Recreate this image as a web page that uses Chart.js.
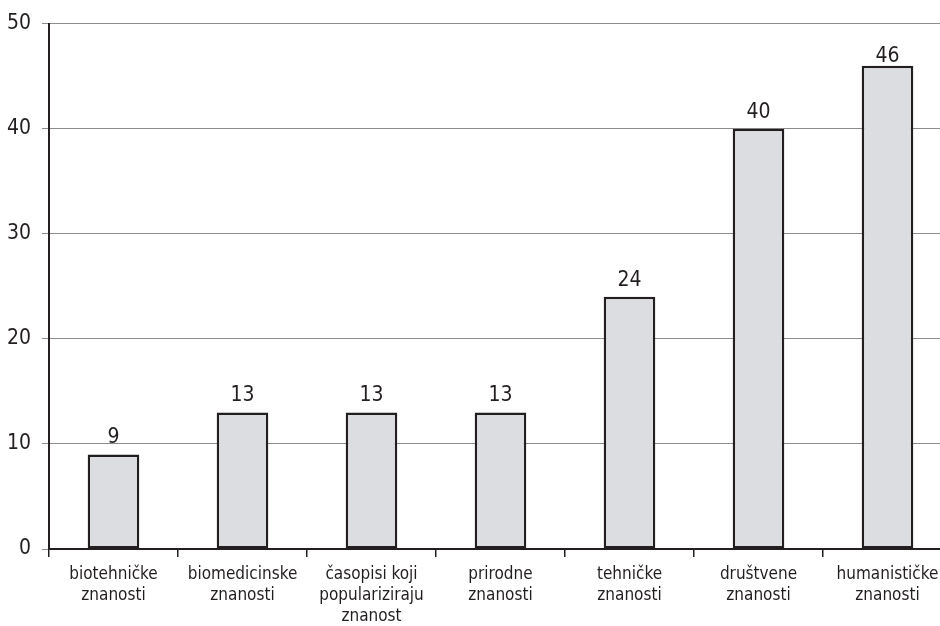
<!DOCTYPE html>
<html>
<head>
<meta charset="utf-8">
<title>Časopisi po područjima</title>
<script src="https://cdn.jsdelivr.net/npm/chart.js@4/dist/chart.umd.min.js"></script>
<style>
  html, body { margin: 0; padding: 0; background: #fff; overflow: hidden; }
  #wrap { position: relative; width: 952px; height: 626px; }
</style>
</head>
<body>
<div id="wrap"><canvas id="chart"></canvas></div>
<script>
var categories = [
  ['biotehničke', 'znanosti'],
  ['biomedicinske', 'znanosti'],
  ['časopisi koji', 'populariziraju', 'znanost'],
  ['prirodne', 'znanosti'],
  ['tehničke', 'znanosti'],
  ['društvene', 'znanosti'],
  ['humanističke', 'znanosti']
];
var counts = [9, 13, 13, 13, 24, 40, 46];
var yTicks = [0, 10, 20, 30, 40, 50];

var FONT = "'Liberation Sans Narrow', 'DejaVu Sans Condensed', 'Roboto Condensed', Roboto, sans-serif";
var INK = '#231f20';

/**
 * @description Draws the value above every bar, kept inside the plot top.
 */
var barValues = {
  id: 'barValues',
  afterDatasetsDraw: function (chart) {
    var ctx = chart.ctx;
    var meta = chart.getDatasetMeta(0);
    var top = chart.chartArea.top;
    ctx.save();
    ctx.font = '21px ' + FONT;
    ctx.fillStyle = INK;
    ctx.textAlign = 'center';
    ctx.textBaseline = 'alphabetic';
    meta.data.forEach(function (bar, i) {
      var y = Math.max(bar.y - 11, top + 38);
      ctx.fillText(String(chart.data.datasets[0].data[i]), bar.x, y);
    });
    ctx.restore();
  }
};

new Chart(document.getElementById('chart'), {
  type: 'bar',
  data: {
    labels: categories,
    datasets: [{
      data: counts,
      backgroundColor: '#dcdde0',
      borderColor: INK,
      borderWidth: 2.5,
      borderSkipped: false,
      barPercentage: 0.4,
      categoryPercentage: 1
    }]
  },
  options: {
    responsive: true,
    maintainAspectRatio: false,
    animation: false,
    layout: { padding: { top: 15, right: 0, left: 0, bottom: 0 } },
    plugins: {
      legend: { display: false },
      tooltip: { enabled: false }
    },
    scales: {
      x: {
        afterFit: function (scale) { scale.height = 77; },
        border: { color: INK, width: 2 },
        grid: { drawOnChartArea: false, drawTicks: true, tickLength: 8, color: INK, lineWidth: 1.5 },
        ticks: {
          color: INK,
          padding: 7,
          maxRotation: 0,
          autoSkip: false,
          font: { family: FONT, size: 17, lineHeight: 1.24 }
        }
      },
      y: {
        min: 0,
        max: 50,
        afterFit: function (scale) { scale.width = 49; },
        afterBuildTicks: function (scale) {
          scale.ticks = yTicks.map(function (v) { return { value: v }; });
        },
        border: { color: INK, width: 2 },
        grid: { color: '#8c8c8c', lineWidth: 1, tickLength: 7 },
        ticks: {
          color: INK,
          padding: 11,
          font: { family: FONT, size: 21 }
        }
      }
    }
  },
  plugins: [barValues]
});
</script>
</body>
</html>
